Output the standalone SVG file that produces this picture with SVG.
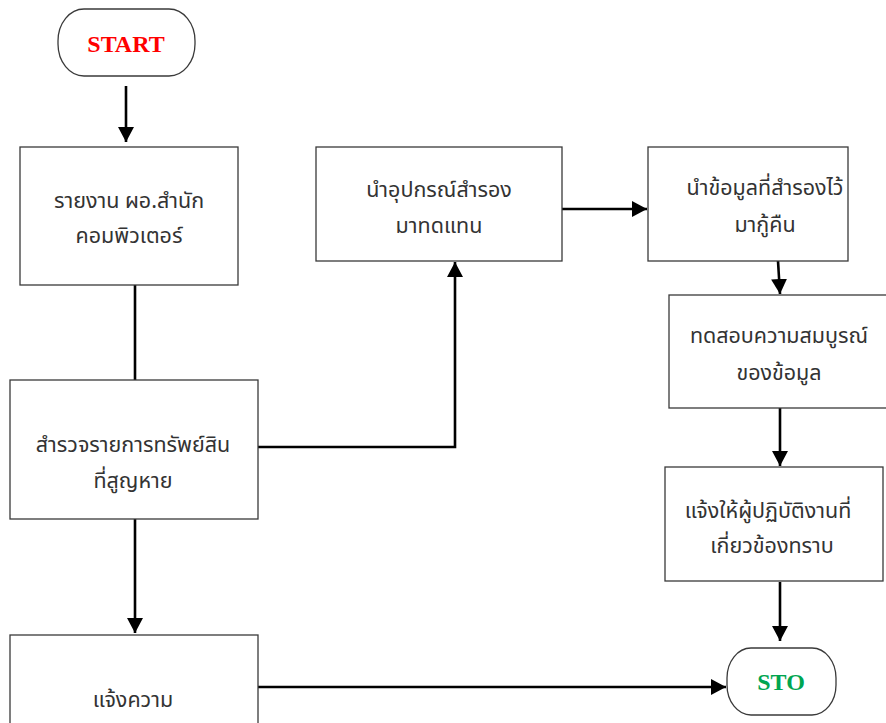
<svg xmlns="http://www.w3.org/2000/svg" width="886" height="723" viewBox="0 0 886 723">
  <style>
    .box { fill: #ffffff; stroke: #3a3a3a; stroke-width: 1.3; }
    .term { fill: #ffffff; stroke: #3a3a3a; stroke-width: 1.3; }
    .label { font-family: "Noto Sans Thai", "Noto Sans", "DejaVu Sans", sans-serif; font-size: 21.5px; fill: #333333; text-anchor: middle; }
    .termtext { font-family: "Liberation Serif", "Times New Roman", serif; font-weight: bold; font-size: 24px; text-anchor: middle; }
    .conn { fill: none; stroke: #000000; stroke-width: 2.6; }
  </style>
  <defs>
    <marker id="arrow" markerUnits="userSpaceOnUse" markerWidth="16" markerHeight="16" refX="15" refY="8" orient="auto">
      <path d="M0,0 L15,8 L0,16 z" fill="#000000"/>
    </marker>
  </defs>

  <rect width="886" height="723" fill="#ffffff"/>

  <!-- connectors -->
  <g id="connectors">
    <line class="conn" x1="126" y1="86" x2="126" y2="142" marker-end="url(#arrow)"/>
    <line class="conn" x1="135" y1="285" x2="135" y2="380"/>
    <polyline class="conn" points="258,447 455,447 455,262" marker-end="url(#arrow)"/>
    <line class="conn" x1="562" y1="209" x2="647" y2="209" marker-end="url(#arrow)"/>
    <line class="conn" x1="778" y1="261" x2="780" y2="294" marker-end="url(#arrow)"/>
    <line class="conn" x1="780" y1="408" x2="780" y2="466" marker-end="url(#arrow)"/>
    <line class="conn" x1="780" y1="582" x2="780" y2="641" marker-end="url(#arrow)"/>
    <line class="conn" x1="135" y1="519" x2="135" y2="633" marker-end="url(#arrow)"/>
    <line class="conn" x1="258" y1="687" x2="726" y2="687" marker-end="url(#arrow)"/>
  </g>

  <!-- terminal: start -->
  <g id="start">
    <rect class="term" x="58" y="9" width="137" height="67" rx="26" ry="32"/>
    <text class="termtext" x="126" y="52" fill="#ff0000">START</text>
  </g>

  <g id="report">
    <rect class="box" x="20" y="147" width="218" height="138"/>
    <text class="label" x="129" y="208">รายงาน ผอ.สำนัก</text>
    <text class="label" x="129" y="243">คอมพิวเตอร์</text>
  </g>

  <g id="survey">
    <rect class="box" x="10" y="380" width="248" height="139"/>
    <text class="label" x="133" y="452">สำรวจรายการทรัพย์สิน</text>
    <text class="label" x="133" y="488">ที่สูญหาย</text>
  </g>

  <g id="police">
    <rect class="box" x="10" y="635" width="248" height="100"/>
    <text class="label" x="133" y="707">แจ้งความ</text>
  </g>

  <g id="replace">
    <rect class="box" x="316" y="147" width="246" height="114"/>
    <text class="label" x="439" y="197">นำอุปกรณ์สำรอง</text>
    <text class="label" x="439" y="233">มาทดแทน</text>
  </g>

  <g id="restore">
    <rect class="box" x="648" y="147" width="200" height="114"/>
    <text class="label" x="765" y="195">นำข้อมูลที่สำรองไว้</text>
    <text class="label" x="765" y="232">มากู้คืน</text>
  </g>

  <g id="verify">
    <rect class="box" x="669" y="295" width="220" height="113"/>
    <text class="label" x="779" y="343">ทดสอบความสมบูรณ์</text>
    <text class="label" x="779" y="380">ของข้อมูล</text>
  </g>

  <g id="notify">
    <rect class="box" x="665" y="467" width="218" height="114"/>
    <text class="label" x="768" y="518">แจ้งให้ผู้ปฏิบัติงานที่</text>
    <text class="label" x="772" y="553">เกี่ยวข้องทราบ</text>
  </g>

  <!-- terminal: stop -->
  <g id="stop">
    <rect class="term" x="727" y="648" width="109" height="67" rx="24" ry="30"/>
    <text class="termtext" x="781" y="690" fill="#00a550">STO</text>
  </g>
</svg>
